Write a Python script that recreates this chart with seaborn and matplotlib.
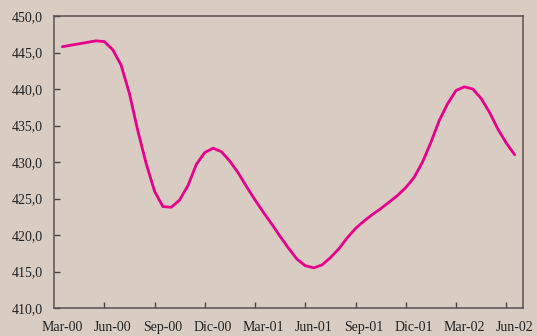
import numpy as np
import pandas as pd
import matplotlib
matplotlib.use("Agg")
import matplotlib.pyplot as plt
from matplotlib.ticker import FixedLocator, FuncFormatter
import seaborn as sns

# ── Data (semi-monthly readings, Mar-00 .. Jun-02) ─────────
quarter_labels = ["Mar-00", "Jun-00", "Sep-00", "Dic-00", "Mar-01", "Jun-01",
                  "Sep-01", "Dic-01", "Mar-02", "Jun-02"]
values = [445.8, 446.0, 446.2, 446.4, 446.6, 446.5, 445.4, 443.3, 439.4, 434.3,
          429.8, 426.0, 423.9, 423.8, 424.8, 426.8, 429.7, 431.3, 431.9, 431.4,
          430.1, 428.5, 426.6, 424.8, 423.1, 421.5, 419.8, 418.2, 416.7, 415.8,
          415.5, 415.9, 416.9, 418.1, 419.6, 420.9, 421.9, 422.8, 423.6, 424.5,
          425.4, 426.5, 427.9, 430.0, 432.7, 435.7, 438.0, 439.8, 440.3, 440.0,
          438.7, 436.8, 434.5, 432.6, 431.0]
n_months = 28

df = pd.DataFrame({"month": np.arange(len(values)) / 2, "value": values})

# ── Style ──────────────────────────────────────────────────
bg = "#d9cdc3"
sns.set_theme(style="ticks")
plt.rcParams["font.family"] = ["Liberation Serif", "DejaVu Serif"]

fig = plt.figure(figsize=(5.37, 3.36), dpi=100, facecolor=bg)
ax = fig.add_axes([0.1006, 0.0833, 0.8734, 0.869])
ax.set_facecolor(bg)

sns.lineplot(data=df, x="month", y="value", ax=ax, color="#e8008a", lw=2.0)

ax.set_xlim(-0.5, n_months - 0.5)
ax.set_ylim(410, 450)
ax.set_yticks(np.arange(410, 451, 5))
ax.yaxis.set_major_formatter(FuncFormatter(lambda v, p: f"{v:.1f}".replace(".", ",")))

# tick marks on quarter boundaries, labels centred on the month
ax.xaxis.set_major_locator(FixedLocator(np.arange(2.5, n_months, 3)))
ax.xaxis.set_minor_locator(FixedLocator(np.arange(0, n_months, 3)))
ax.xaxis.set_major_formatter(FuncFormatter(lambda v, p: ""))
ax.set_xticks(np.arange(0, n_months, 3), quarter_labels, minor=True)

ax.tick_params(axis="both", which="major", direction="in", length=4.5,
               width=1.0, color="#4a4444", labelsize=10, labelcolor="#222222")
ax.tick_params(axis="y", pad=8)
ax.tick_params(axis="x", which="minor", length=0, pad=9,
               labelsize=10, labelcolor="#222222")

for s in ax.spines.values():
    s.set_visible(True)
    s.set_color("#5a5252")
    s.set_linewidth(1.1)

ax.set_xlabel("")
ax.set_ylabel("")

fig.savefig("out.png", dpi=100, facecolor=bg)
